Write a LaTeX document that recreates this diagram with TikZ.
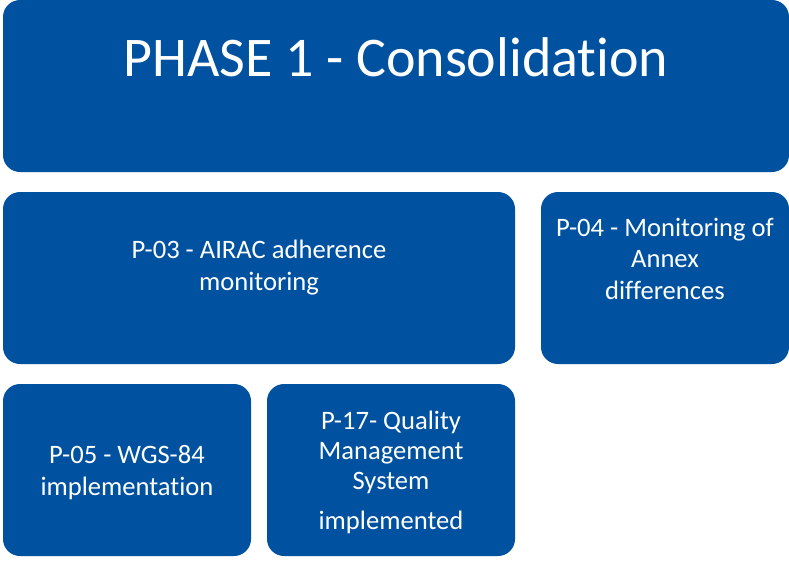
\documentclass[tikz,border=0pt]{standalone}
\usepackage{fontspec}
\setmainfont{Carlito}[Ligatures=NoCommon]
\definecolor{phaseblue}{RGB}{0,82,160}

\begin{document}
\begin{tikzpicture}[x=1pt,y=-1pt]
    \tikzstyle{block} = [rectangle, fill=phaseblue, rounded corners=17pt, inner sep=0pt, minimum height=172pt]
    \tikzstyle{blocktext} = [text=white, align=center, anchor=base, inner sep=0pt, font=\fontsize{26.6}{31.5}\selectfont]

    \useasboundingbox (0,0) rectangle (789,560);

    \node[block, minimum width=786pt] (phase) at (396,86) {};
    \node[block, minimum width=512pt] (p03) at (259,278) {};
    \node[block, minimum width=248pt] (p04) at (665,278) {};
    \node[block, minimum width=248pt] (p05) at (127,470) {};
    \node[block, minimum width=248pt] (p17) at (391,470) {};

    % base anchor sits on the last line
    \node[blocktext, font=\fontsize{56}{60}\selectfont] (phasetxt) at (396,76) {PHASE 1 - Consolidation};
    \node[blocktext] (p03txt) at (259,290) {P-03 - AIRAC adherence\\monitoring};
    \node[blocktext] (p04txt) at (665,299) {P-04 - Monitoring of\\Annex\\differences};
    \node[blocktext] (p05txt) at (127,495) {P-05 - WGS-84\\implementation};
    \node[blocktext, font=\fontsize{26.6}{30}\selectfont] (p17txt) at (391,529) {P-17- Quality\\Management\\System\\[10pt]implemented};
\end{tikzpicture}
\end{document}
